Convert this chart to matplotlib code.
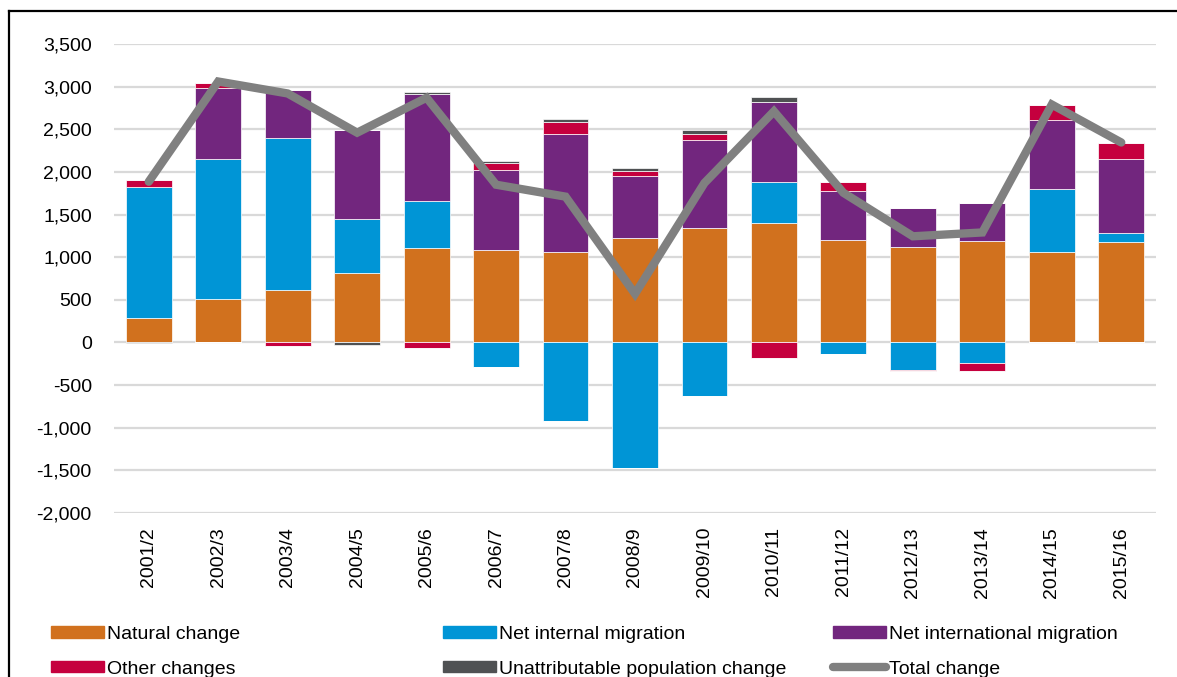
import numpy as np
import matplotlib.pyplot as plt
from matplotlib.lines import Line2D
from matplotlib.patches import Patch

years = ['2001/2', '2002/3', '2003/4', '2004/5', '2005/6', '2006/7', '2007/8', '2008/9',
         '2009/10', '2010/11', '2011/12', '2012/13', '2013/14', '2014/15', '2015/16']
natural = [288, 512, 617, 820, 1102, 1082, 1058, 1223, 1340, 1398, 1203, 1121, 1192, 1055, 1180]
internal = [1540, 1644, 1782, 633, 562, -286, -922, -1477, -629, 481, -133, -320, -238, 746, 109]
international = [0, 829, 562, 1039, 1250, 942, 1391, 730, 1035, 942, 571, 461, 441, 813, 864]
other = [74, 62, -40, 0, -63, 81, 141, 58, 70, -180, 108, -10, -98, 167, 191]
unattributable = [-10, 0, 0, -30, 20, 28, 35, 35, 43, 58, 0, 0, 0, 0, 0]
total = [1885, 3060, 2920, 2460, 2870, 1850, 1710, 570, 1870, 2710, 1755, 1245, 1290, 2790, 2345]

series = [('Natural change', natural, '#D1711E'),
          ('Net internal migration', internal, '#0095D6'),
          ('Net international migration', international, '#72267E'),
          ('Other changes', other, '#C5003E'),
          ('Unattributable population change', unattributable, '#4F5153')]

plt.rcParams['font.family'] = ['Liberation Sans', 'DejaVu Sans']
fs = 14

fig = plt.figure(figsize=(11.77, 6.77), dpi=100)
ax = fig.add_axes([114 / 1177, 1 - 513 / 677, (1156 - 114) / 1177, (513 - 44) / 677])

x = np.arange(len(years))
pos_base = np.zeros(len(years))
neg_base = np.zeros(len(years))
for name, vals, col in series:
    v = np.array(vals, dtype=float)
    pos = np.where(v > 0, v, 0)
    neg = np.where(v < 0, v, 0)
    ax.bar(x, pos, 0.66, bottom=pos_base, color=col, edgecolor='white', linewidth=0.5, zorder=2)
    ax.bar(x, neg, 0.66, bottom=neg_base, color=col, edgecolor='white', linewidth=0.5, zorder=2)
    pos_base += pos
    neg_base += neg

ax.plot(x, total, color='#808080', linewidth=6, solid_capstyle='round', solid_joinstyle='miter', zorder=3)

ax.set_xlim(-0.5, len(years) - 0.5)
ax.set_ylim(-2000, 3500)
ax.set_yticks(np.arange(-2000, 3501, 500))
ax.yaxis.set_major_formatter(plt.FuncFormatter(lambda v, p: f'{int(v):,}'))
ax.set_xticks(x)
ax.set_xticklabels(years, rotation=90)
ax.tick_params(axis='both', length=0, labelsize=fs)
ax.tick_params(axis='y', pad=16)
ax.tick_params(axis='x', pad=10)
ax.grid(axis='y', color='#D9D9D9', linewidth=1.6, zorder=0)
ax.set_axisbelow(True)
for s in ax.spines.values():
    s.set_visible(False)

# legend: three columns placed by hand, two rows each
cols = [
    (51, [Patch(color=series[0][2]), Patch(color=series[3][2])], [series[0][0], series[3][0]]),
    (443, [Patch(color=series[1][2]), Patch(color=series[4][2])], [series[1][0], series[4][0]]),
    (833, [Patch(color=series[2][2]),
           Line2D([], [], color='#808080', linewidth=6, solid_capstyle='round')],
     [series[2][0], 'Total change']),
]
for xpx, hs, ls in cols:
    fig.legend(hs, ls, loc='upper left', bbox_to_anchor=(xpx / 1177, 1 - 626 / 677),
               frameon=False, fontsize=fs, handlelength=2.7, handleheight=0.55,
               handletextpad=0.2, labelspacing=0.9, borderaxespad=0, borderpad=0)

fig.add_artist(Line2D([9 / 1177, 1.0], [1 - 11 / 677, 1 - 11 / 677], color='black', linewidth=1.6))
fig.add_artist(Line2D([9 / 1177, 9 / 1177], [0, 1 - 11 / 677], color='black', linewidth=1.6))

fig.savefig('out.png', dpi=100)
